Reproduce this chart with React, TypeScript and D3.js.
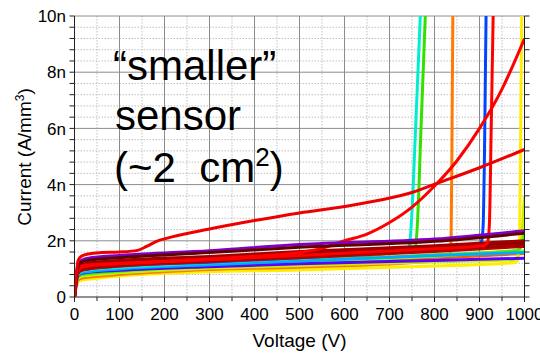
import React, { useEffect, useRef } from "react";
import * as d3 from "d3";

type Pt = [number, number];

// tick values
const xTicks = [0, 100, 200, 300, 400, 500, 600, 700, 800, 900, 1000];
const yTicks = [0, 2, 4, 6, 8, 10];

// IV curves: [voltage (V), current (nA/mm3)]
const redBump: Pt[] = [[0, 0], [4, 0.8], [8, 1.3], [15, 1.45], [30, 1.53], [60, 1.58], [100, 1.6], [140, 1.66], [160, 1.8], [185, 2.0], [200, 2.07], [300, 2.42], [400, 2.72], [500, 2.99], [600, 3.22], [680, 3.45], [750, 3.72], [810, 4.07], [900, 4.6], [1000, 5.25]];
const purple: Pt[] = [[0, 0], [4, 0.75], [8, 1.15], [15, 1.3], [30, 1.38], [100, 1.48], [300, 1.65], [500, 1.87], [800, 2.06], [1000, 2.36]];
const maroon: Pt[] = [[0, 0], [4, 0.7], [8, 1.1], [15, 1.24], [30, 1.3], [100, 1.4], [300, 1.58], [500, 1.77], [800, 1.98], [1000, 2.27]];
const darkRed1: Pt[] = [[0, 0], [4, 0.65], [8, 1.02], [15, 1.14], [30, 1.2], [100, 1.3], [300, 1.44], [500, 1.62], [800, 1.82], [1000, 2.0]];
const darkRed2: Pt[] = [[0, 0], [4, 0.62], [8, 0.96], [15, 1.07], [30, 1.13], [100, 1.22], [300, 1.36], [500, 1.52], [800, 1.74], [1000, 1.93]];
const darkRed3: Pt[] = [[0, 0], [4, 0.6], [8, 0.9], [15, 1.0], [30, 1.06], [100, 1.15], [300, 1.3], [500, 1.45], [800, 1.68], [1000, 1.86]];
const darkRed4: Pt[] = [[0, 0], [4, 0.56], [8, 0.85], [15, 0.95], [30, 1.0], [100, 1.1], [300, 1.26], [500, 1.4], [800, 1.62], [1000, 1.8]];
const darkRed5: Pt[] = [[0, 0], [4, 0.63], [8, 0.99], [15, 1.1], [30, 1.16], [100, 1.26], [300, 1.4], [500, 1.57], [800, 1.78], [1000, 1.96]];
const redExp: Pt[] = [[0, 0], [4, 0.65], [8, 1.0], [15, 1.1], [30, 1.14], [100, 1.2], [200, 1.27], [300, 1.35], [400, 1.45], [500, 1.58], [550, 1.74], [600, 2.0], [650, 2.24], [700, 2.65], [750, 3.2], [800, 3.95], [850, 4.85], [900, 6.0], [950, 7.4], [1000, 9.2]];
const cyan: Pt[] = [[0, 0], [4, 0.55], [8, 0.82], [15, 0.92], [30, 0.97], [100, 1.05], [300, 1.22], [500, 1.38], [700, 1.58], [738, 1.66], [744, 1.8], [748, 2.5], [758, 6], [770, 10.6]];
const green: Pt[] = [[0, 0], [4, 0.5], [8, 0.74], [15, 0.82], [30, 0.86], [100, 0.95], [300, 1.16], [500, 1.3], [700, 1.55], [752, 1.66], [758, 1.8], [762, 2.6], [770, 6], [781, 10.6]];
const lime: Pt[] = [[0, 0], [4, 0.47], [8, 0.7], [15, 0.77], [30, 0.8], [100, 0.9], [300, 1.1], [500, 1.25], [800, 1.45], [1000, 1.65]];
const skyBlue: Pt[] = [[0, 0], [4, 0.52], [8, 0.78], [15, 0.86], [30, 0.9], [100, 1.0], [300, 1.15], [500, 1.28], [800, 1.48], [1000, 1.58]];
const violet: Pt[] = [[0, 0], [4, 0.5], [8, 0.76], [15, 0.84], [30, 0.88], [100, 0.95], [300, 1.08], [500, 1.18], [800, 1.3], [1000, 1.38]];
const orange: Pt[] = [[0, 0], [4, 0.42], [8, 0.6], [15, 0.67], [30, 0.7], [100, 0.8], [300, 0.98], [500, 1.06], [800, 1.28], [826, 1.34], [834, 1.5], [837, 2.2], [839, 6], [841, 10.6]];
const orangeRed: Pt[] = [[0, 0], [4, 0.44], [8, 0.63], [15, 0.7], [30, 0.74], [100, 0.84], [300, 1.02], [500, 1.14], [800, 1.38], [1000, 1.55]];
const yellow: Pt[] = [[0, 0], [4, 0.38], [8, 0.55], [15, 0.6], [30, 0.63], [100, 0.75], [300, 0.9], [500, 0.96], [800, 1.1], [975, 1.22], [985, 1.3], [989, 2], [991, 5], [994, 10.6]];
const blue: Pt[] = [[0, 0], [4, 0.56], [8, 0.85], [15, 0.95], [30, 1.0], [100, 1.1], [300, 1.24], [500, 1.4], [800, 1.7], [898, 1.84], [904, 1.95], [908, 2.5], [911, 5], [915, 10.6]];
const redBreak: Pt[] = [[0, 0], [4, 0.6], [8, 0.92], [15, 1.04], [30, 1.1], [100, 1.18], [300, 1.33], [500, 1.48], [800, 1.72], [908, 1.82], [918, 1.95], [922, 2.6], [926, 6], [931, 10.6]];
const yellowGreen: Pt[] = [[0, 0], [4, 0.45], [8, 0.66], [15, 0.73], [30, 0.76], [100, 0.86], [300, 1.02], [500, 1.12], [800, 1.25], [975, 1.32], [988, 1.6], [995, 2.4], [1000, 3.6]];
const green2: Pt[] = [[0, 0], [4, 0.48], [8, 0.72], [15, 0.8], [30, 0.83], [100, 0.92], [300, 1.12], [500, 1.27], [800, 1.5], [985, 1.66], [994, 1.9], [1000, 2.3]];

const curves: { data: Pt[]; color: string }[] = [
  { data: yellow, color: "#ffee00" },
  { data: orange, color: "#ff7a00" },
  { data: orangeRed, color: "#ff5a00" },
  { data: yellowGreen, color: "#c8f000" },
  { data: lime, color: "#88ff00" },
  { data: green2, color: "#55ee00" },
  { data: green, color: "#33e000" },
  { data: violet, color: "#5a00ff" },
  { data: skyBlue, color: "#00aaff" },
  { data: cyan, color: "#00eed0" },
  { data: blue, color: "#0044ff" },
  { data: darkRed4, color: "#c00000" },
  { data: darkRed3, color: "#9a0000" },
  { data: darkRed2, color: "#b00000" },
  { data: darkRed5, color: "#8a0000" },
  { data: darkRed1, color: "#a00000" },
  { data: redBreak, color: "#ff0000" },
  { data: redExp, color: "#ff0000" },
  { data: purple, color: "#8000c8" },
  { data: maroon, color: "#600000" },
  { data: redBump, color: "#ee0000" },
];

const FONT = "'Liberation Sans', Arial, sans-serif";

export default function App() {
  const ref = useRef<SVGSVGElement>(null);

  useEffect(() => {
    if (!ref.current) return;
    const svg = d3.select(ref.current);
    svg.selectAll("*").remove();

    const left = 74.5, right = 524.5, top = 16, bottom = 297;
    const x = d3.scaleLinear().domain([0, 1000]).range([left, right]);
    const y = d3.scaleLinear().domain([0, 10]).range([bottom, top]);

    // minor grid (dotted)
    const g = svg.append("g");
    g.selectAll("line.mx")
      .data(d3.range(50, 1000, 100))
      .join("line")
      .attr("x1", (d) => x(d)).attr("x2", (d) => x(d))
      .attr("y1", top).attr("y2", bottom)
      .attr("stroke", "#c0c0c0").attr("stroke-dasharray", "1.5,1.5");
    g.selectAll("line.my")
      .data(d3.range(0.4, 10, 0.4).filter((v) => Math.abs(v / 2 - Math.round(v / 2)) > 0.01))
      .join("line")
      .attr("x1", left).attr("x2", right)
      .attr("y1", (d) => y(d)).attr("y2", (d) => y(d))
      .attr("stroke", "#c0c0c0").attr("stroke-dasharray", "1.5,1.5");

    // major grid
    g.selectAll("line.Mx")
      .data(xTicks.slice(1, -1))
      .join("line")
      .attr("x1", (d) => x(d)).attr("x2", (d) => x(d))
      .attr("y1", top).attr("y2", bottom)
      .attr("stroke", "#8c8c8c");
    g.selectAll("line.My")
      .data(yTicks.slice(1))
      .join("line")
      .attr("x1", left).attr("x2", right)
      .attr("y1", (d) => y(d)).attr("y2", (d) => y(d))
      .attr("stroke", "#8c8c8c");

    // curves
    svg.append("clipPath").attr("id", "plot")
      .append("rect")
      .attr("x", left).attr("y", top)
      .attr("width", right - left).attr("height", bottom - top);

    const line = d3.line<Pt>()
      .x((d) => x(d[0]))
      .y((d) => y(d[1]))
      .curve(d3.curveMonotoneX);

    svg.append("g")
      .attr("clip-path", "url(#plot)")
      .selectAll("path")
      .data(curves)
      .join("path")
      .attr("d", (d) => line(d.data))
      .attr("fill", "none")
      .attr("stroke", (d) => d.color)
      .attr("stroke-width", 3)
      .attr("stroke-linejoin", "round");

    // frame
    svg.append("line").attr("x1", left).attr("x2", left).attr("y1", top).attr("y2", bottom).attr("stroke", "#222");
    svg.append("line").attr("x1", right).attr("x2", right).attr("y1", top).attr("y2", bottom).attr("stroke", "#222");
    svg.append("line").attr("x1", left).attr("x2", right).attr("y1", bottom).attr("y2", bottom).attr("stroke", "#222");

    // ticks
    const yMinor = d3.range(0, 10.01, 0.4);
    [left, right].forEach((xx) => {
      const dir = xx === left ? -1 : 1;
      svg.append("g").selectAll("line")
        .data(yMinor)
        .join("line")
        .attr("x1", xx).attr("x2", xx + dir * 5)
        .attr("y1", (d) => y(d)).attr("y2", (d) => y(d))
        .attr("stroke", "#222");
    });
    svg.append("g").selectAll("line")
      .data(d3.range(0, 1001, 50))
      .join("line")
      .attr("x1", (d) => x(d)).attr("x2", (d) => x(d))
      .attr("y1", bottom).attr("y2", (d) => bottom + (d % 100 === 0 ? 5 : 4))
      .attr("stroke", "#222");

    // tick labels
    svg.append("g").selectAll("text")
      .data(yTicks)
      .join("text")
      .attr("x", 66).attr("y", (d) => y(d))
      .attr("dy", "0.36em")
      .attr("text-anchor", "end")
      .style("font", `17px ${FONT}`)
      .text((d) => (d === 0 ? "0" : `${d}n`));
    svg.append("g").selectAll("text")
      .data(xTicks)
      .join("text")
      .attr("x", (d) => x(d)).attr("y", 320)
      .attr("text-anchor", "middle")
      .style("font", `17px ${FONT}`)
      .text((d) => d);

    // axis titles
    svg.append("text")
      .attr("x", x(500)).attr("y", 347)
      .attr("text-anchor", "middle")
      .style("font", `19px ${FONT}`)
      .text("Voltage (V)");
    const yt = svg.append("text")
      .attr("transform", "translate(31,157) rotate(-90)")
      .attr("text-anchor", "middle")
      .style("font", `19px ${FONT}`);
    yt.append("tspan").text("Current (A/mm");
    yt.append("tspan").attr("dy", -7).style("font-size", "12px").text("3");
    yt.append("tspan").attr("dy", 7).text(")");

    // annotation
    const note = svg.append("g").style("font", `42px ${FONT}`).attr("fill", "#000");
    note.append("text").attr("x", 113).attr("y", 80).text("\u201csmaller\u201d");
    note.append("text").attr("x", 115).attr("y", 130).text("sensor");
    const l3 = note.append("text").attr("x", 114).attr("y", 182);
    l3.append("tspan").text("(~2\u00a0\u00a0cm");
    l3.append("tspan").attr("dy", -16).style("font-size", "26px").text("2");
    l3.append("tspan").attr("dy", 16).text(")");
  }, []);

  return (
    <svg
      ref={ref}
      width={540}
      height={354}
      style={{ position: "absolute", left: 0, top: 0, background: "#fff" }}
    />
  );
}
